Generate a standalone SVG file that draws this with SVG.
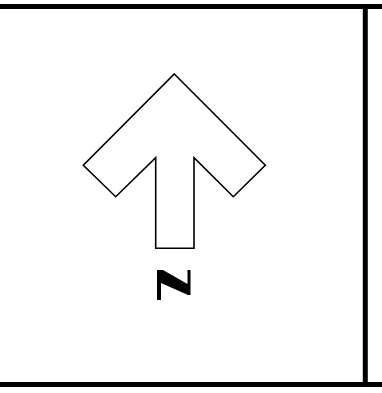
<svg xmlns="http://www.w3.org/2000/svg" width="382" height="393" viewBox="0 0 382 393">
<style>
.frame{stroke:#000;stroke-width:5;fill:none}
.arrow{stroke:#000;stroke-width:1.6;fill:#fff;stroke-linejoin:miter}
</style>
<rect x="0" y="0" width="382" height="393" fill="#fff"/>
<g id="frame">
<line class="frame" x1="0" y1="6.5" x2="382" y2="6.5"/>
<line class="frame" x1="0" y1="384.5" x2="382" y2="384.5"/>
<line class="frame" x1="365.3" y1="6.5" x2="365.3" y2="384.5"/>
</g>
<g id="north-arrow">
<polygon class="arrow" points="174.3,74 265.3,165.3 233.3,196.7 194,157.7 194,248.3 155.7,248.3 155.7,157.7 115.7,196.7 83.3,165.3"/>
</g>
<g id="north-symbol">
<polygon fill="#000" points="157,270 163,270 187.5,284 187.5,270 190.5,270 190.5,295 188,295 161,283 161,300 157,300"/>
</g>
</svg>
